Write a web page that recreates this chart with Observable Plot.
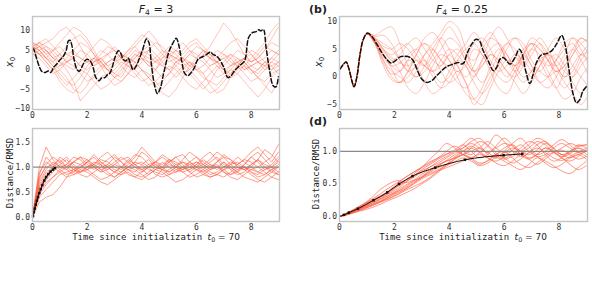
<!DOCTYPE html>
<html><head><meta charset="utf-8">
<script src="https://cdn.jsdelivr.net/npm/d3@7"></script>
<script src="https://cdn.jsdelivr.net/npm/@observablehq/plot@0.6"></script>
<style>
body{margin:0;background:#fff;}
#c{position:relative;width:592px;height:299px;overflow:hidden;font-family:"DejaVu Sans",sans-serif;color:#222;}
.p{position:absolute;}
.lbl{position:absolute;white-space:nowrap;line-height:1;}
.mono{font-family:"DejaVu Sans Mono",monospace;font-size:9px;}
.rot{transform:translate(-50%,-50%) rotate(-90deg);}
.ctr{transform:translate(-50%,-50%);}
.sub{font-size:70%;vertical-align:-0.3em;}
</style></head><body><div id="c"></div>
<script>
// ---------- data ----------
const xTicks = [0, 2, 4, 6, 8];
const yTicksTL = [-10, -5, 0, 5, 10];
const yTicksTR = [-5, 0, 5, 10];
const yTicksBL = [0, 0.5, 1.0, 1.5];
const yTicksBR = [0, 0.5, 1.0];

// top-left: ensemble x0 (F4 = 3), sampled every 0.25
const tlStep = 0.25;
const tlMembers = [
 [6,5,3,1,-1,-3,-4,-2,1,3,2,0,-2,-1,2,4,3,1,0,2,4,5,3,1,2,4,3,1,-1,0,2,3,1,0,2,3,2],
 [5,6,7,8,10,11,9,6,3,1,2,4,5,3,1,0,2,5,7,6,4,3,2,4,6,5,3,2,1,3,5,4,2,3,5,7,6],
 [7,6,4,2,0,-2,-5,-6,-4,-1,1,0,-2,-3,-1,1,3,2,0,-2,-1,1,3,2,0,1,3,2,4,3,1,-1,-3,-2,0,2,1],
 [5,4,5,3,4,2,3,5,4,2,3,1,2,4,3,5,4,2,3,5,4,3,2,4,3,5,4,2,3,4,2,3,4,2,3,5,4],
 [6,7,5,3,2,0,-3,-8,-6,-4,-2,-1,0,2,1,-1,-3,-2,0,3,5,4,2,0,-2,-4,-6,-5,-3,-1,1,2,0,-2,-4,-6,-3],
 [4,5,6,4,2,1,0,2,4,6,8,7,5,3,4,6,8,10,8,5,3,1,-1,0,2,4,6,9,12,10,7,4,2,3,5,8,11],
 [6,4,2,0,1,3,5,7,6,4,2,0,-1,1,3,2,0,-2,-4,-6,-7,-5,-2,1,3,5,4,2,0,-1,1,3,5,4,2,0,1],
 [5,6,4,5,3,4,5,3,2,1,3,4,2,3,5,6,4,3,2,1,0,2,3,1,0,-1,1,2,0,1,2,0,1,2,1,0,2],
 [7,5,3,2,4,6,8,9,7,4,1,-2,-4,-3,-1,2,4,5,3,1,3,5,7,5,3,2,0,-2,-1,1,3,2,0,-1,1,3,5],
 [6,5,3,1,-2,-4,-2,0,-1,-3,-5,-4,-2,0,2,0,-2,-4,-3,-1,1,0,-2,-4,-5,-3,-1,1,0,-2,-1,1,0,-2,-3,-1,0],
 [5,7,8,6,4,2,3,1,0,2,4,6,5,3,2,4,3,1,2,4,6,5,4,6,7,5,3,5,4,2,1,3,2,4,6,5,4],
 [6,4,3,5,7,9,11,10,8,5,2,0,1,3,5,7,9,8,6,4,2,3,5,7,8,6,4,3,5,7,8,6,4,2,1,2,4],
 [4,3,1,-1,0,2,1,-1,-3,-2,0,2,3,1,-1,-2,0,-1,-3,-5,-3,-1,1,2,0,-2,-3,-4,-2,0,-1,-3,-5,-7,-5,-2,0],
 [7,6,5,3,1,2,4,3,2,3,5,4,6,4,3,2,0,-2,-4,-3,-1,2,1,-1,-3,-5,-3,0,2,4,3,1,3,5,7,10,12],
 [5,4,2,0,-3,-5,-6,-4,-1,2,3,1,-1,-2,1,3,5,6,4,2,0,-2,0,2,1,-1,-4,-6,-5,-2,0,1,-1,0,2,1,-1],
 [6,7,6,5,6,4,3,1,2,3,1,2,3,4,2,3,5,4,2,3,4,2,3,5,4,3,1,2,3,1,2,0,1,2,0,1,2]
];
// top-left truth (dashed black): [t, x0]
const tlTruth = [[0.0,5.6],[0.04,5.3],[0.16,2.7],[0.26,0.6],[0.34,-0.4],[0.46,-0.7],[0.58,-0.3],[0.67,-0.7],[0.77,0.6],[0.89,1.5],[1.0,2.5],[1.1,3.2],[1.23,4.9],[1.31,7.4],[1.37,7.6],[1.43,6.6],[1.52,2.7],[1.62,0.2],[1.71,-0.4],[1.8,0.6],[1.92,2.3],[2.0,2.7],[2.13,2.1],[2.22,0.6],[2.32,-2.0],[2.44,-2.8],[2.53,-2.1],[2.65,-2.0],[2.74,-1.3],[2.83,-0.9],[2.93,1.0],[3.02,3.2],[3.14,4.9],[3.22,4.4],[3.32,2.7],[3.42,2.3],[3.5,3.0],[3.59,1.5],[3.68,0],[3.78,0.8],[3.9,2.7],[4.02,4.9],[4.17,7.9],[4.26,7.0],[4.35,1.5],[4.47,-4.1],[4.57,-6.1],[4.68,-4.7],[4.78,-1.5],[4.88,1.5],[4.98,4.4],[5.12,6.6],[5.26,8.1],[5.36,6.2],[5.45,2.7],[5.57,-0.9],[5.69,-1.5],[5.81,-0.7],[5.93,0.6],[6.05,2.7],[6.18,3.2],[6.3,3.6],[6.42,4.2],[6.52,4.6],[6.6,4.0],[6.72,3.6],[6.84,2.7],[6.99,0.8],[7.15,-2.0],[7.27,-1.5],[7.39,-0.3],[7.57,1.0],[7.76,2.3],[7.91,8.3],[8.06,9.6],[8.18,9.8],[8.28,10.3],[8.36,10.0],[8.45,10.4],[8.55,5.7],[8.69,-0.7],[8.81,-4.1],[8.91,-4.4],[9.0,-1.8]];

// top-right: ensemble x0 (F4 = 0.25); shared start, then members sampled every 0.3 from t = 1.0
const trShared = [[0,1.4],[0.15,2.3],[0.24,2.7],[0.33,1.7],[0.45,-0.7],[0.53,-1.8],[0.63,-0.1],[0.75,4.1],[0.87,6.8]];
const trStart = 1.0, trStep = 0.3;
const trMembers = [
 [7.8,7.5,8.5,9,6,2,0,2,5,7,5,2,0,2,6,8,6,3,1,3,5,4,2,3,5,6,4,5],
 [7.8,6.5,4,2,1,3,5,6,4,1,-1,0,3,6,7,5,2,0,2,5,6,3,0,-2,1,4,6,7],
 [7.8,6,3,1,0,-1,1,4,6,8,10,9,5,1,-1,1,4,6,5,2,0,2,5,7,5,2,0,-2],
 [7.7,6.8,5,4,5,6,4,2,1,3,5,4,2,-1,-3,-1,3,6,7,5,2,1,3,4,2,-1,-3,-1],
 [7.8,6,2.5,0.5,1,3,2,-1,-3,-2,1,3,2,0,3,7,9,7,4,2,4,6,4,1,2,5,7,6],
 [7.8,7,6,5,3,1,2,4,5,3,1,-1,-2,0,2,4,3,1,-1,-3,-1,2,4,3,1,0,2,4],
 [7.8,6.5,4.5,3,1,-2,-3,-1,2,4,3,0,-3,-4,-2,2,5,4,2,4,6,5,3,0,-2,0,3,5],
 [7.9,7.3,7.5,6,3,1,0,1,3,5,7,6,3,1,2,4,3,1,0,2,5,7,5,2,0,1,4,6],
 [7.8,6.2,4,1.5,-1,0,2,3,1,-1,0,3,5,6,4,2,0,-1,1,4,2,-1,-2,0,3,5,3,0],
 [7.8,6.8,5.5,5,6,5,3,2,4,7,9,7,4,3,5,7,6,3,2,4,6,5,3,2,4,7,6,4],
 [7.8,6.3,3.5,2,2.5,4,5,3,0,-2,-1,1,-1,-4,-5,-2,1,3,2,0,1,3,1,-2,-4,-3,0,2],
 [7.8,7,5,3,4,6,7,5,3,2,4,5,3,1,3,5,6,4,1,-1,1,3,4,2,0,2,4,3],
 [7.8,6,3,0,-1,1,4,6,5,3,2,4,6,8,6,3,1,2,4,3,1,-1,0,3,6,7,5,2],
 [7.8,6.6,4.8,3.5,2.5,2,4,7,8,6,3,1,2,5,4,1,-2,-3,0,4,7,6,3,1,2,4,7,6],
 [7.8,5.8,2,-0.5,-1,1,3,2,1,2,4,2,-1,-5,-3,0,2,5,7,6,3,1,0,1,-1,-3,-5,-3]
];
const trTruth = [[0.02,1.4],[0.15,2.3],[0.24,2.7],[0.33,1.7],[0.45,-0.7],[0.53,-1.8],[0.63,-0.1],[0.75,4.1],[0.87,6.8],[1.02,7.9],[1.18,7.3],[1.36,5.9],[1.54,4.4],[1.72,3.2],[1.88,2.5],[2.03,2.9],[2.21,3.6],[2.39,3.7],[2.57,3.5],[2.69,2.9],[2.82,1.4],[3.0,-0.4],[3.18,-1.0],[3.36,-0.7],[3.54,0.2],[3.79,1.4],[3.97,2.0],[4.15,2.3],[4.33,2.6],[4.45,2.3],[4.54,2.6],[4.64,4.1],[4.82,5.9],[4.98,6.8],[5.1,6.5],[5.24,4.7],[5.42,2.9],[5.61,1.1],[5.73,1.7],[5.85,3.2],[5.97,3.5],[6.09,2.9],[6.21,2.3],[6.4,3.5],[6.55,5.0],[6.64,4.4],[6.8,0.8],[6.94,-1.2],[7.06,0.5],[7.18,2.6],[7.37,4.0],[7.55,4.2],[7.73,4.7],[7.91,5.9],[8.1,7.5],[8.22,5.9],[8.37,1.1],[8.52,-3.2],[8.64,-4.7],[8.76,-4.1],[8.88,-2.5],[9.03,-1.6]];

// bottom-left: distance / RMSD (F4 = 3), sampled every 0.25
const blStep = 0.25;
const blMembers = [
 [0,0.9,1.1,1.0,1.2,1.1,0.95,1.05,1.15,1.0,0.9,1.05,1.2,1.1,0.95,0.9,1.05,1.15,1.0,0.95,1.1,1.2,1.05,0.9,1.0,1.15,1.05,0.95,1.1,1.0,0.9,1.05,1.2,1.1,0.95,1.05,1.2],
 [0,0.6,0.85,1.0,1.1,1.2,1.05,0.95,1.1,1.25,1.1,1.0,0.9,1.0,1.15,1.05,0.95,0.85,0.95,1.1,1.0,0.9,0.95,1.1,1.2,1.05,0.95,1.0,1.1,0.95,0.85,0.9,1.05,1.15,1.0,0.9,1.0],
 [0,0.3,0.4,0.45,0.6,0.8,0.95,1.0,1.1,1.0,0.9,0.95,1.05,1.0,0.85,0.8,0.9,1.0,1.05,0.95,0.85,0.9,1.0,1.1,1.0,0.9,0.8,0.85,0.95,1.05,1.1,1.0,0.9,0.85,0.95,1.0,0.9],
 [0,0.5,0.7,0.8,0.95,1.05,1.2,1.15,1.0,1.05,1.2,1.3,1.15,1.0,1.1,1.25,1.2,1.05,0.95,1.0,1.15,1.1,1.0,0.95,1.05,1.2,1.3,1.15,1.0,1.05,1.2,1.1,1.0,1.15,1.35,1.25,1.1],
 [0,1.0,1.4,1.15,1.0,1.05,0.95,0.9,1.0,1.1,1.05,0.9,0.8,0.9,1.0,0.95,0.85,0.75,0.8,0.95,1.05,1.0,0.9,0.8,0.85,0.95,1.05,1.0,0.9,0.85,0.95,1.0,0.9,0.8,0.85,0.95,1.0],
 [0,0.4,0.55,0.7,0.85,0.9,0.95,0.85,0.8,0.9,1.0,1.05,0.95,0.9,1.0,1.1,1.05,0.95,0.9,0.85,0.95,1.05,1.1,1.0,0.95,0.9,1.0,1.05,0.9,0.8,0.75,0.85,0.95,1.0,0.9,0.8,0.75],
 [0,0.7,0.95,1.1,1.0,0.95,1.1,1.2,1.05,0.95,1.05,1.15,1.25,1.1,1.0,1.1,1.3,1.2,1.05,1.0,1.1,1.2,1.25,1.1,1.0,1.05,1.15,1.3,1.2,1.05,0.95,1.05,1.2,1.3,1.15,1.0,1.1],
 [0,0.8,1.0,1.05,0.95,0.85,0.9,1.0,0.95,0.85,0.75,0.8,0.9,1.0,0.95,0.85,0.8,0.9,1.0,0.95,0.9,1.0,1.1,1.05,0.95,0.85,0.8,0.85,0.95,1.0,0.9,0.8,0.75,0.7,0.8,0.9,0.85],
 [0,0.55,0.75,0.9,1.05,1.15,1.0,0.9,0.95,1.05,1.15,1.1,1.0,0.95,1.05,1.2,1.4,1.25,1.1,1.05,1.15,1.05,0.95,1.0,1.1,1.05,0.95,1.1,1.25,1.15,1.0,0.95,1.05,1.15,1.05,1.0,1.15],
 [0,0.65,0.9,1.0,0.9,0.8,0.85,0.95,0.9,0.8,0.7,0.65,0.75,0.85,0.9,0.8,0.75,0.85,0.95,0.9,0.8,0.7,0.75,0.85,0.95,1.0,0.9,0.85,0.8,0.9,1.0,0.95,0.85,0.75,0.7,0.8,0.9],
 [0,0.75,1.05,1.2,1.1,1.0,1.1,1.2,1.15,1.05,0.95,1.0,1.1,1.2,1.1,1.0,0.95,1.05,1.1,1.0,0.9,1.0,1.15,1.3,1.2,1.1,1.0,1.1,1.2,1.15,1.05,1.15,1.3,1.4,1.25,1.1,1.3],
 [0,0.45,0.65,0.8,0.9,1.0,1.1,1.05,0.95,1.0,1.1,1.0,0.9,0.85,0.95,1.0,0.9,1.0,1.1,1.2,1.1,0.95,0.9,0.95,1.05,0.95,0.85,0.9,1.0,1.1,1.05,0.95,1.0,0.9,0.85,0.95,1.05],
 [0,0.85,1.2,1.05,1.15,1.0,0.9,1.0,1.1,1.2,1.05,0.95,1.05,1.15,1.2,1.05,0.95,1.0,1.1,1.25,1.15,1.0,0.95,1.05,1.1,1.0,1.1,1.2,1.05,0.95,1.05,1.15,1.1,1.0,1.1,1.2,1.45],
 [0,0.6,0.8,0.95,1.05,0.95,0.85,0.9,1.0,1.05,0.95,0.85,0.8,0.9,1.0,1.05,1.1,1.0,0.85,0.8,0.85,0.95,1.0,0.9,0.8,0.85,0.95,1.0,0.95,0.85,0.9,1.0,0.95,0.9,1.0,0.95,0.85]
];
const blMean = [[0.02,0.02],[0.05,0.1],[0.08,0.17],[0.12,0.25],[0.16,0.33],[0.2,0.4],[0.25,0.48],[0.3,0.56],[0.36,0.64],[0.43,0.73],[0.5,0.8],[0.58,0.86],[0.66,0.91],[0.75,0.95],[0.82,0.98]];

// bottom-right: distance / RMSD (F4 = 0.25), sampled every 0.3
const brStep = 0.3;
const brMembers = [
 [0,0.06,0.12,0.2,0.3,0.42,0.5,0.55,0.52,0.56,0.65,0.72,0.8,0.85,0.9,1.0,1.08,1.0,0.92,0.95,1.05,1.1,1.0,0.9,0.95,1.05,1.0,0.92,0.96,1.05,1.0],
 [0,0.04,0.1,0.15,0.2,0.26,0.32,0.4,0.48,0.55,0.6,0.68,0.75,0.8,0.88,0.95,1.05,1.15,1.1,0.98,0.9,0.95,1.05,1.15,1.1,0.95,0.85,0.9,1.0,1.05,0.95],
 [0,0.03,0.08,0.12,0.17,0.22,0.27,0.33,0.4,0.46,0.52,0.6,0.7,0.8,0.92,1.0,1.05,0.98,0.9,0.85,0.92,1.0,0.95,0.88,0.8,0.88,0.98,1.02,0.95,0.88,0.92],
 [0,0.05,0.1,0.16,0.24,0.3,0.38,0.47,0.55,0.62,0.7,0.76,0.82,0.9,0.98,1.1,1.2,1.1,0.95,0.9,1.0,1.12,1.2,1.08,0.95,1.0,1.1,1.18,1.1,1.0,1.05],
 [0,0.04,0.09,0.14,0.19,0.24,0.3,0.36,0.42,0.5,0.58,0.64,0.7,0.75,0.8,0.85,0.9,0.95,0.9,0.82,0.78,0.85,0.95,1.0,0.92,0.82,0.75,0.8,0.9,0.95,0.88],
 [0,0.05,0.11,0.18,0.25,0.3,0.35,0.42,0.52,0.62,0.72,0.8,0.88,0.95,1.02,1.1,1.0,0.9,0.95,1.08,1.2,1.1,0.95,0.88,0.95,1.05,0.98,0.9,0.85,0.92,1.02],
 [0,0.03,0.07,0.1,0.14,0.19,0.25,0.3,0.36,0.42,0.5,0.58,0.68,0.78,0.88,0.95,0.9,0.82,0.85,0.95,1.0,0.9,0.8,0.75,0.82,0.92,0.98,0.9,0.8,0.72,0.78],
 [0,0.06,0.13,0.2,0.27,0.35,0.44,0.52,0.6,0.68,0.75,0.82,0.9,1.0,1.08,1.0,0.95,1.05,1.15,1.05,0.98,1.02,1.1,1.0,0.92,0.95,1.05,1.12,1.05,0.98,1.02],
 [0,0.04,0.08,0.13,0.18,0.23,0.28,0.34,0.42,0.5,0.6,0.7,0.78,0.85,0.9,0.95,1.0,1.05,0.98,0.92,0.98,1.05,1.0,0.95,1.02,1.12,1.05,0.95,0.98,1.08,1.1],
 [0,0.05,0.1,0.15,0.22,0.28,0.36,0.45,0.55,0.65,0.75,0.88,1.0,1.12,1.05,0.95,0.9,0.98,1.08,1.25,1.15,1.0,0.92,0.98,1.1,1.15,1.05,0.95,1.0,1.1,1.05],
 [0,0.04,0.09,0.15,0.21,0.27,0.33,0.38,0.44,0.52,0.6,0.66,0.72,0.78,0.84,0.9,0.85,0.78,0.82,0.9,0.85,0.78,0.72,0.8,0.9,0.85,0.78,0.7,0.66,0.75,0.85],
 [0,0.05,0.1,0.17,0.23,0.3,0.38,0.46,0.53,0.6,0.68,0.76,0.85,0.92,1.0,1.05,1.12,1.05,0.98,1.05,1.12,1.08,1.0,1.05,1.15,1.1,1.0,1.05,1.12,1.08,1.1],
 [0,0.03,0.07,0.12,0.17,0.23,0.3,0.38,0.46,0.54,0.62,0.7,0.78,0.86,0.95,1.05,1.15,1.2,1.08,0.95,0.88,0.92,1.0,1.1,1.2,1.15,1.02,0.95,0.9,0.95,1.0],
 [0,0.06,0.12,0.19,0.26,0.32,0.4,0.5,0.6,0.68,0.76,0.84,0.9,0.96,1.0,0.95,0.88,0.8,0.86,0.95,0.9,0.82,0.88,0.98,1.05,0.98,0.9,0.86,0.92,0.98,0.92]
];
const brMean = [[0,0],[0.16,0.025],[0.34,0.06],[0.67,0.12],[1.24,0.25],[1.74,0.37],[2.17,0.5],[2.66,0.62],[3.49,0.75],[4.57,0.87],[5.98,0.94],[6.66,0.96]];

// ---------- helpers ----------
function rowsFromMembers(members, t0, step, shared) {
  const rows = [];
  members.forEach((vals, m) => {
    if (shared) shared.forEach(([t, v]) => rows.push({m, t, v}));
    vals.forEach((v, i) => rows.push({m, t: t0 + i * step, v}));
  });
  return rows;
}
const pairs = a => a.map(([t, v]) => ({t, v}));
const RED = "#ff5a3c";

function panel(o) {
  const svg = Plot.plot({
    width: o.w, height: o.h,
    marginLeft: o.ml, marginRight: o.mr, marginTop: o.mt, marginBottom: o.mb,
    x: {domain: [0, 9.04]},
    y: {domain: o.yDomain},
    style: {fontFamily: "DejaVu Sans Mono, monospace", fontSize: "8px", color: "#333", background: "transparent", overflow: "visible"},
    marks: [
      ...o.marks,
      Plot.frame({stroke: "#c4c4c4", strokeWidth: 1.4}),
      Plot.axisX({ticks: xTicks, tickSize: 0, tickPadding: 2.5, label: null, tickFormat: d3.format("d")}),
      Plot.axisY({ticks: o.yTicks, tickSize: 0, tickPadding: 2.5, label: null, tickFormat: o.fmt})
    ]
  });
  svg.classList.add("p");
  svg.style.left = o.left + "px";
  svg.style.top = o.top + "px";
  document.getElementById("c").appendChild(svg);
}

// top-left
panel({left: 0, top: 0, w: 296, h: 140, ml: 32, mr: 17, mt: 16, mb: 31,
  yDomain: [-10.2, 13.7], yTicks: yTicksTL, fmt: d3.format("d"),
  marks: [
    Plot.line(rowsFromMembers(tlMembers, 0, tlStep), {x: "t", y: "v", z: "m", stroke: RED, strokeOpacity: 0.45, strokeWidth: 0.8, clip: true}),
    Plot.line(pairs(tlTruth), {x: "t", y: "v", stroke: "#111", strokeWidth: 1.5, strokeDasharray: "4.5,2.5", curve: "catmull-rom", clip: true})
  ]});

// top-right
panel({left: 296, top: 0, w: 296, h: 140, ml: 43, mr: 5, mt: 16, mb: 31,
  yDomain: [-5.9, 10.9], yTicks: yTicksTR, fmt: d3.format("d"),
  marks: [
    Plot.line(rowsFromMembers(trMembers, trStart, trStep, trShared), {x: "t", y: "v", z: "m", stroke: RED, strokeOpacity: 0.45, strokeWidth: 0.8, curve: "catmull-rom", clip: true}),
    Plot.line(pairs(trTruth), {x: "t", y: "v", stroke: "#111", strokeWidth: 1.5, strokeDasharray: "4.5,2.5", curve: "catmull-rom", clip: true})
  ]});

// bottom-left
panel({left: 0, top: 120, w: 296, h: 130, ml: 32, mr: 17, mt: 8, mb: 29,
  yDomain: [-0.086, 1.77], yTicks: yTicksBL, fmt: d3.format(".1f"),
  marks: [
    Plot.line(rowsFromMembers(blMembers, 0, blStep), {x: "t", y: "v", z: "m", stroke: RED, strokeOpacity: 0.7, strokeWidth: 0.85, clip: true}),
    Plot.ruleY([1], {stroke: "#8a8a8a", strokeWidth: 1.4}),
    Plot.line(pairs(blMean), {x: "t", y: "v", stroke: "#111", strokeWidth: 1.2}),
    Plot.dot(pairs(blMean), {x: "t", y: "v", symbol: "square", r: 1.4, fill: "#111"})
  ]});

// bottom-right
panel({left: 296, top: 120, w: 296, h: 130, ml: 43, mr: 5, mt: 8, mb: 29,
  yDomain: [-0.076, 1.35], yTicks: yTicksBR, fmt: d3.format(".1f"),
  marks: [
    Plot.line(rowsFromMembers(brMembers, 0, brStep), {x: "t", y: "v", z: "m", stroke: RED, strokeOpacity: 0.7, strokeWidth: 0.9, curve: "catmull-rom", clip: true}),
    Plot.ruleY([1], {stroke: "#8a8a8a", strokeWidth: 1.4}),
    Plot.line(pairs(brMean), {x: "t", y: "v", stroke: "#111", strokeWidth: 1, curve: "monotone-x"}),
    Plot.dot(pairs(brMean).slice(1), {x: "t", y: "v", symbol: "square", r: 1.4, fill: "#111"})
  ]});

// ---------- text ----------
const c = document.getElementById("c");
function label(html, x, y, cls, style) {
  const d = document.createElement("div");
  d.className = "lbl " + cls;
  d.innerHTML = html;
  d.style.left = x + "px";
  d.style.top = y + "px";
  if (style) Object.assign(d.style, style);
  c.appendChild(d);
}
label('<i>F</i><span class="sub">4</span> = 3', 156, 10, "ctr", {fontSize: "11px"});
label('<i>F</i><span class="sub">4</span> = 0.25', 462, 10, "ctr", {fontSize: "11px"});
label('(b)', 318, 9, "ctr", {fontSize: "11px", fontWeight: "bold"});
label('(d)', 318, 121, "ctr", {fontSize: "11px", fontWeight: "bold"});
label('<i>x</i><span class="sub">0</span>', 11, 62, "rot", {fontSize: "10px"});
label('<i>x</i><span class="sub">0</span>', 320, 62, "rot", {fontSize: "10px"});
label('Distance/RMSD', 10, 173, "rot mono");
label('Distance/RMSD', 316, 174, "rot mono");
const timeLbl = 'Time since initializatin <span style="font-family:DejaVu Sans"><i>t</i><span class="sub">0</span> = 70</span>';
label(timeLbl, 156, 238, "ctr mono");
label(timeLbl, 463, 238, "ctr mono");
</script></body></html>
